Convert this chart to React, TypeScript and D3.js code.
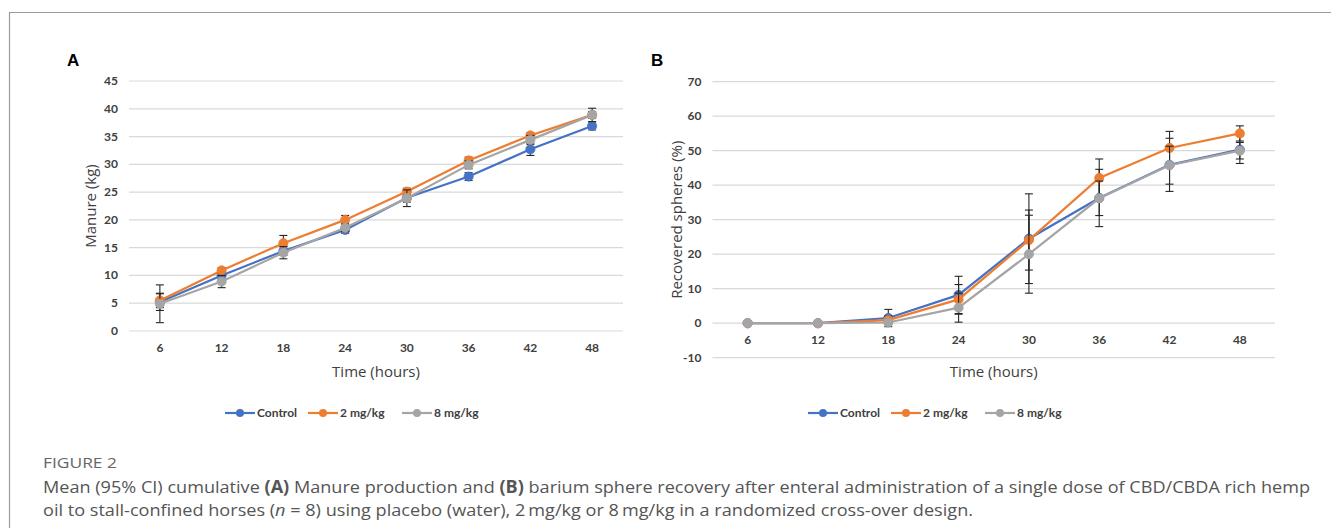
import React from 'react'
import * as d3 from 'd3'

const times = ['6', '12', '18', '24', '30', '36', '42', '48']
const seriesNames = ['Control', '2 mg/kg', '8 mg/kg']
const colors = ['#4472C4', '#ED7D31', '#A5A5A5']

// panel A - manure (kg)
const manureControl = [5.2, 10.0, 14.4, 18.2, 24.0, 27.8, 32.7, 36.9]
const manure2mg = [5.5, 10.9, 15.8, 20.0, 25.1, 30.7, 35.2, 38.9]
const manure8mg = [4.9, 8.9, 14.1, 18.6, 23.9, 29.9, 34.4, 38.9]
const manureErrControl = [1.5, 0.7, 0.8, 0.6, 0.8, 0.7, 1.1, 0.7]
const manureErr2mg = [1.3, 0.5, 1.4, 0.8, 0.6, 0.6, 0.5, 0.6]
const manureErr8mg = [3.4, 1.1, 1.1, 0.7, 1.5, 0.7, 0.8, 1.2]
const manureTicks = [0, 5, 10, 15, 20, 25, 30, 35, 40, 45]

// panel B - recovered spheres (%)
const spheresControl = [0, 0, 1.5, 8.2, 24.5, 36.3, 45.9, 50.3]
const spheres2mg = [0, 0, 0.9, 6.9, 24.1, 42.1, 50.8, 55.0]
const spheres8mg = [0, 0, 0.2, 4.5, 20.0, 36.2, 45.8, 50.0]
const spheresErrControl = [0, 0, 2.5, 5.4, 13, 8.3, 7.7, 4]
const spheresErr2mg = [0, 0, 1.2, 4.3, 8.7, 5.5, 4.8, 2.2]
const spheresErr8mg = [0, 0, 0.4, 4.2, 11.3, 5, 5.5, 2.4]
const spheresTicks = [-10, 0, 10, 20, 30, 40, 50, 60, 70]

const tickFont = 'Lato, "Open Sans", sans-serif'
const titleFont = '"Open Sans", sans-serif'
const legendOffsets = [0, 83, 177]

type PanelProps = {
  letter: string
  letterX: number
  x0: number
  x1: number
  yTop: number
  yBottom: number
  domain: [number, number]
  ticks: number[]
  values: number[][]
  errors: number[][]
  yTitle: string
  yTitleX: number
  xLabelY: number
  legendX: number
}

const Panel = (p: PanelProps) => {
  const x = d3.scalePoint().domain(times).range([p.x0, p.x1]).padding(0.5)
  const y = d3.scaleLinear().domain(p.domain).range([p.yBottom, p.yTop])
  const line = d3
    .line<number>()
    .x((d, i) => x(times[i]) as number)
    .y((d) => y(d))

  const midX = (p.x0 + p.x1) / 2
  const midY = (p.yTop + p.yBottom) / 2

  return (
    <g>
      <text x={p.letterX} y={66} fontFamily="Arial, sans-serif" fontWeight="bold" fontSize={17} fill="#000">
        {p.letter}
      </text>
      {p.ticks.map((t) => (
        <g key={t}>
          <line x1={p.x0} x2={p.x1} y1={y(t)} y2={y(t)} stroke="#d9d9d9" strokeWidth={1.2} />
          <text
            x={p.x0 - 11}
            y={y(t) + 4}
            textAnchor="end"
            fontFamily={tickFont}
            fontWeight="bold"
            fontSize={12}
            fill="#404040"
          >
            {t}
          </text>
        </g>
      ))}
      {times.map((t) => (
        <text
          key={t}
          x={x(t)}
          y={p.xLabelY}
          textAnchor="middle"
          fontFamily={tickFont}
          fontWeight="bold"
          fontSize={12}
          fill="#404040"
        >
          {t}
        </text>
      ))}
      <text x={midX} y={377} textAnchor="middle" fontFamily={titleFont} fontSize={15} fill="#404040">
        Time (hours)
      </text>
      <text
        transform={`translate(${p.yTitleX},${midY}) rotate(-90)`}
        textAnchor="middle"
        fontFamily={titleFont}
        fontSize={15}
        fill="#404040"
      >
        {p.yTitle}
      </text>

      {p.values.map((vals, s) => (
        <g key={s}>
          <path d={line(vals) as string} fill="none" stroke={colors[s]} strokeWidth={2.2} />
          {vals.map((v, i) =>
            p.errors[s][i] > 0 ? (
              <g key={i} stroke="#262626" strokeWidth={1.1}>
                <line x1={x(times[i])} x2={x(times[i])} y1={y(v - p.errors[s][i])} y2={y(v + p.errors[s][i])} />
                <line x1={(x(times[i]) as number) - 4} x2={(x(times[i]) as number) + 4} y1={y(v - p.errors[s][i])} y2={y(v - p.errors[s][i])} />
                <line x1={(x(times[i]) as number) - 4} x2={(x(times[i]) as number) + 4} y1={y(v + p.errors[s][i])} y2={y(v + p.errors[s][i])} />
              </g>
            ) : null
          )}
          {vals.map((v, i) => (
            <circle key={i} cx={x(times[i])} cy={y(v)} r={4.6} fill={colors[s]} stroke={colors[s]} strokeWidth={0.8} />
          ))}
        </g>
      ))}

      {seriesNames.map((name, s) => {
        const lx = p.legendX + legendOffsets[s]
        return (
          <g key={name}>
            <line x1={lx} x2={lx + 30} y1={413} y2={413} stroke={colors[s]} strokeWidth={2.2} />
            <circle cx={lx + 15} cy={413} r={4} fill={colors[s]} />
            <text x={lx + 32} y={417} fontFamily={tickFont} fontWeight="bold" fontSize={12} fill="#404040">
              {name}
            </text>
          </g>
        )
      })}
    </g>
  )
}

const App = () => {
  return (
    <svg
      width={1331}
      height={528}
      style={{ position: 'absolute', left: 0, top: 0, background: '#fff' }}
    >
      <rect x={0} y={0} width={1331} height={528} fill="#fff" />
      <line x1={9} x2={1331} y1={12.5} y2={12.5} stroke="#9a9a9a" strokeWidth={1.2} />
      <line x1={9.5} x2={9.5} y1={12} y2={528} stroke="#9a9a9a" strokeWidth={1.2} />

      <Panel
        letter="A"
        letterX={67}
        x0={129}
        x1={623}
        yTop={81}
        yBottom={331}
        domain={[0, 45]}
        ticks={manureTicks}
        values={[manureControl, manure2mg, manure8mg]}
        errors={[manureErrControl, manureErr2mg, manureErr8mg]}
        yTitle="Manure (kg)"
        yTitleX={96}
        xLabelY={352}
        legendX={225}
      />
      <Panel
        letter="B"
        letterX={651}
        x0={712.5}
        x1={1275}
        yTop={81.7}
        yBottom={357.7}
        domain={[-10, 70]}
        ticks={spheresTicks}
        values={[spheresControl, spheres2mg, spheres8mg]}
        errors={[spheresErrControl, spheresErr2mg, spheresErr8mg]}
        yTitle="Recovered spheres (%)"
        yTitleX={682}
        xLabelY={344}
        legendX={808}
      />

      <text x={43} y={468} fontFamily={titleFont} fontSize={14} fill="#666" textLength={74} lengthAdjust="spacingAndGlyphs">
        FIGURE 2
      </text>
      <text x={43} y={493} fontFamily={titleFont} fontSize={17} fill="#555" textLength={1267} lengthAdjust="spacingAndGlyphs">
        Mean (95% CI) cumulative <tspan fontWeight="bold">(A)</tspan> Manure production and{' '}
        <tspan fontWeight="bold">(B)</tspan> barium sphere recovery after enteral administration of a single dose of
        CBD/CBDA rich hemp
      </text>
      <text x={43} y={516} fontFamily={titleFont} fontSize={17} fill="#555" textLength={930} lengthAdjust="spacingAndGlyphs">
        oil to stall-confined horses (<tspan fontStyle="italic">n</tspan> = 8) using placebo (water), 2{'\u2009'}mg/kg or
        8{'\u2009'}mg/kg in a randomized cross-over design.
      </text>
    </svg>
  )
}

export default App
